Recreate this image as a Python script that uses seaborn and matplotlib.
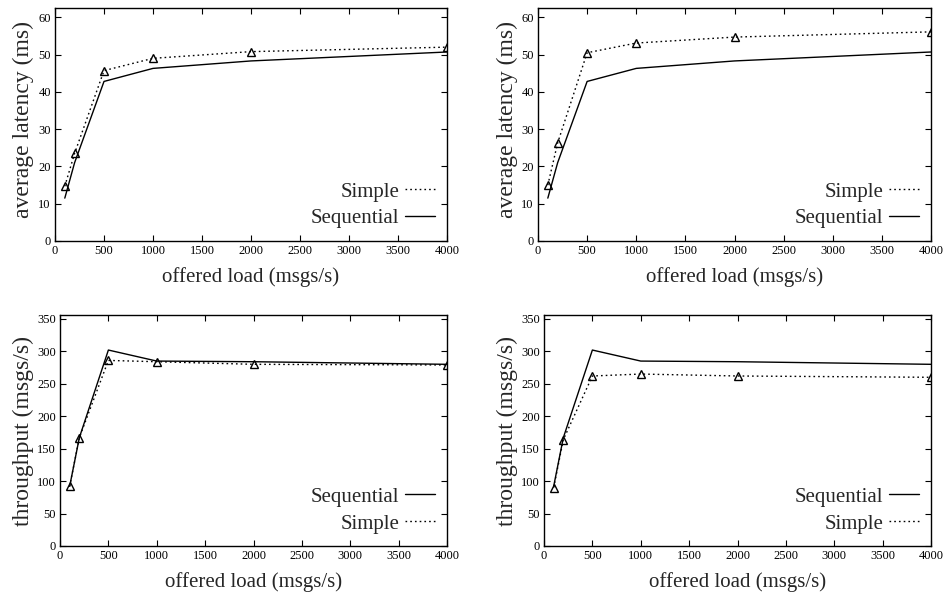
import numpy as np
import pandas as pd
import matplotlib
matplotlib.use("Agg")
import matplotlib.pyplot as plt
from matplotlib.lines import Line2D
import seaborn as sns

# ------------------------------
# Data
# ------------------------------
load = [100, 200, 500, 1000, 2000, 4000]

lat_sequential = [11.5, 21.0, 42.8, 46.3, 48.3, 50.7]
lat_simple_left = [14.7, 23.5, 45.7, 49.0, 50.8, 52.0]
lat_simple_right = [15.0, 26.3, 50.5, 53.1, 54.7, 56.1]

thr_sequential = [92, 167, 302, 285, 284, 280]
thr_simple_left = [92, 167, 286, 284, 280, 279]
thr_simple_right = [90, 164, 262, 265, 262, 260]

x_ticks = [0, 500, 1000, 1500, 2000, 2500, 3000, 3500, 4000]
lat_ticks = [0, 10, 20, 30, 40, 50, 60]
thr_ticks = [0, 50, 100, 150, 200, 250, 300, 350]

# ------------------------------
# Style
# ------------------------------
sns.set_theme(style="ticks")
plt.rcParams['font.family'] = ['Liberation Serif', 'DejaVu Serif']
plt.rcParams['axes.linewidth'] = 1.0
plt.rcParams['xtick.direction'] = 'in'
plt.rcParams['ytick.direction'] = 'in'

W, H = 949, 592
fig = plt.figure(figsize=(W / 100, H / 100), dpi=100)

DOTS = (0, (1.2, 2.2))


def make_axes(left, right, top, bottom):
    return fig.add_axes([left / W, 1 - bottom / H, (right - left) / W, (bottom - top) / H])


def draw_panel(ax, seq, simple, ylabel, yticks, ymax, order, ylabel_xy):
    df = pd.DataFrame({"load": load, "Sequential": seq, "Simple": simple})
    sns.lineplot(data=df, x="load", y="Sequential", ax=ax, color="black", lw=1.0)
    sns.lineplot(data=df, x="load", y="Simple", ax=ax, color="black", lw=1.0,
                 linestyle=DOTS, marker="^", markersize=6,
                 markerfacecolor="none", markeredgecolor="black", markeredgewidth=1.0)
    ax.set_xlim(0, 4000)
    ax.set_ylim(0, ymax)
    ax.set_xticks(x_ticks)
    ax.set_yticks(yticks)
    ax.tick_params(axis="both", which="both", top=True, right=True, length=4,
                   width=0.8, labelsize=9, colors="black", pad=3)
    ax.set_xlabel("offered load (msgs/s)", fontsize=15, labelpad=7)
    ax.set_ylabel(ylabel, fontsize=17)
    ax.yaxis.set_label_coords(*ylabel_xy)
    for s in ax.spines.values():
        s.set_color("black")

    handles = {
        "Simple": Line2D([], [], color="black", lw=1.0, linestyle=DOTS),
        "Sequential": Line2D([], [], color="black", lw=1.0),
    }
    ax.legend([handles[k] for k in order], order, loc="lower right",
              bbox_to_anchor=(0.969, 0.054), borderaxespad=0, borderpad=0,
              frameon=False, markerfirst=False, fontsize=15,
              handlelength=1.45, handletextpad=0.25, labelspacing=0.35)


ax1 = make_axes(55, 447, 8, 241)
draw_panel(ax1, lat_sequential, lat_simple_left, "average latency (ms)",
           lat_ticks, 62.5, ["Simple", "Sequential"], (-0.054, 0.52))

ax2 = make_axes(538, 931, 8, 241)
draw_panel(ax2, lat_sequential, lat_simple_right, "average latency (ms)",
           lat_ticks, 62.5, ["Simple", "Sequential"], (-0.051, 0.52))

ax3 = make_axes(60, 447, 315, 546)
draw_panel(ax3, thr_sequential, thr_simple_left, "throughput (msgs/s)",
           thr_ticks, 356, ["Sequential", "Simple"], (-0.066, 0.5))

ax4 = make_axes(544, 931, 315, 546)
draw_panel(ax4, thr_sequential, thr_simple_right, "throughput (msgs/s)",
           thr_ticks, 356, ["Sequential", "Simple"], (-0.066, 0.5))

fig.savefig("out.png", dpi=100)
